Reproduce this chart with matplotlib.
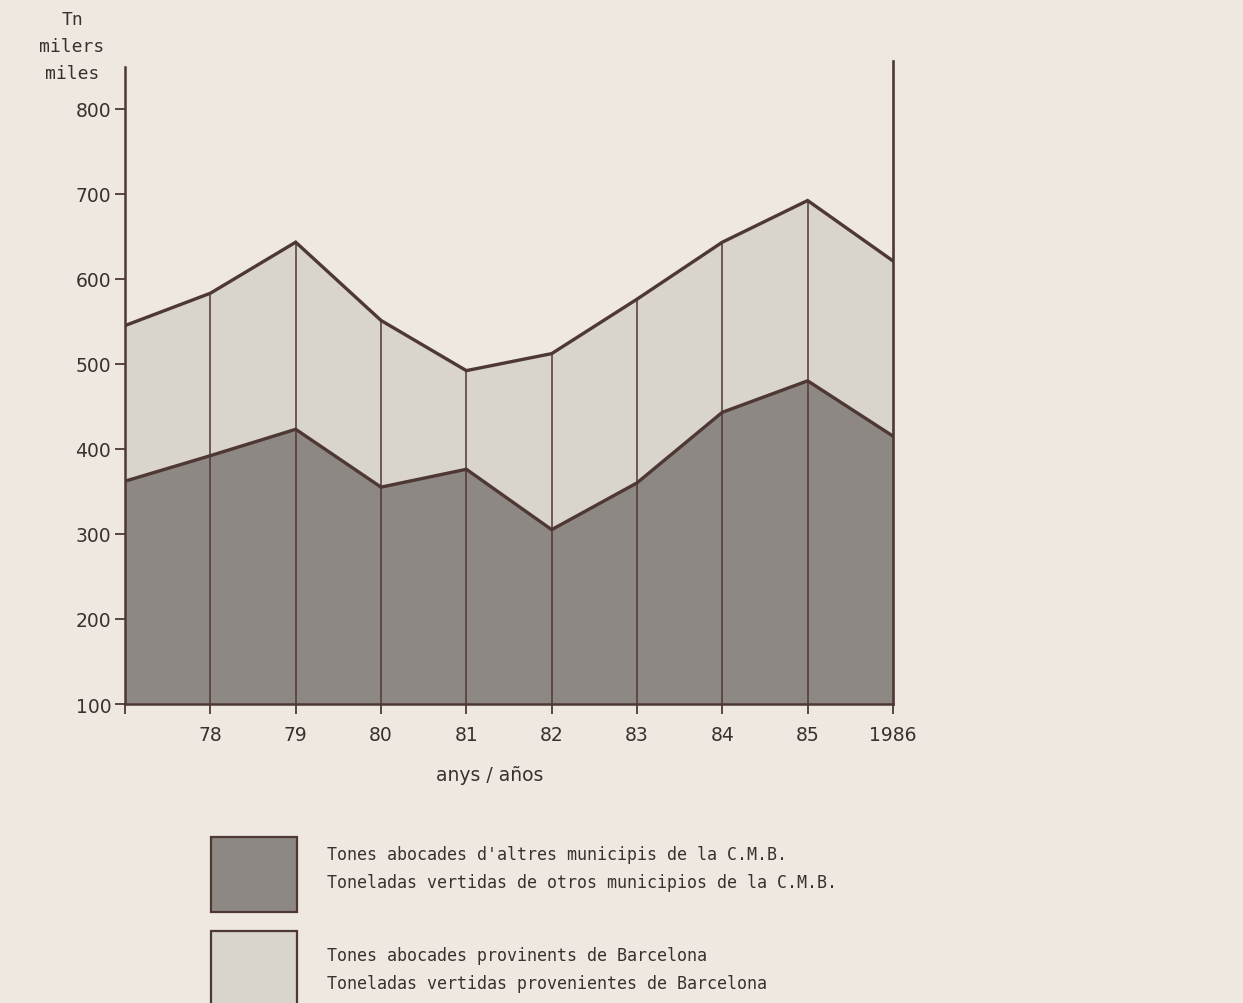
import matplotlib.pyplot as plt
from matplotlib.patches import Rectangle

# anys 1977-1986
anys = [1977, 1978, 1979, 1980, 1981, 1982, 1983, 1984, 1985, 1986]
etiquetes_x = ['', '78', '79', '80', '81', '82', '83', '84', '85', '1986']

# milers de tones
altres_municipis = [362, 392, 423, 355, 376, 305, 360, 443, 480, 415]
barcelona = [183, 191, 220, 196, 116, 207, 216, 200, 212, 206]

total = [a + b for a, b in zip(altres_municipis, barcelona)]

fons = '#eee8e0'
fosc = '#8e8884'
clar = '#d9d4cc'
linia = '#4e3834'
text_color = '#3a3030'

plt.rcParams['font.family'] = ['DejaVu Sans']

fig = plt.figure(figsize=(12.43, 10.04), dpi=100, facecolor=fons)
ax = fig.add_axes([0.1006, 0.2978, 0.6178, 0.6404])
ax.set_facecolor(fons)

ymin = 100
ax.fill_between(anys, ymin, altres_municipis, color=fosc, lw=0)
ax.fill_between(anys, altres_municipis, total, color=clar, lw=0)

# linies verticals a cada any
ax.vlines(anys[1:-1], ymin, total[1:-1], color=linia, lw=1.1)
ax.axvline(anys[-1], color=linia, lw=1.9, clip_on=False)

ax.plot(anys, altres_municipis, color=linia, lw=2.4, solid_joinstyle='miter')
ax.plot(anys, total, color=linia, lw=2.4, solid_joinstyle='miter')

ax.set_xlim(1977, 1986)
ax.set_ylim(ymin, 856)

for s in ['top', 'right']:
    ax.spines[s].set_visible(False)
ax.spines['left'].set_bounds(ymin, 849)
for s in ['left', 'bottom']:
    ax.spines[s].set_color(linia)
    ax.spines[s].set_linewidth(1.8)

ax.set_xticks(anys)
ax.set_xticklabels(etiquetes_x)
ax.set_yticks(range(100, 900, 100))
ax.tick_params(axis='both', direction='out', length=7, width=1.3,
               color=linia, labelcolor=text_color, labelsize=13.5)
ax.tick_params(axis='y', pad=3)
ax.tick_params(axis='x', pad=8)

ax.set_xlabel('anys / años', fontsize=13.5, color=text_color, labelpad=20)
ax.xaxis.set_label_coords((490 - 125) / 768, -0.095)

mono = 'DejaVu Sans Mono'
fig.text(72 / 1243, 1 - 47 / 1004, 'Tn\nmilers\nmiles', ha='center', va='center',
         family=mono, fontsize=13, color=text_color, linespacing=1.62)

# llegenda
def caixa(x, y, w, h, color):
    fig.add_artist(Rectangle((x / 1243, 1 - (y + h) / 1004), w / 1243, h / 1004,
                             transform=fig.transFigure, facecolor=color,
                             edgecolor=linia, lw=1.6))

caixa(211, 838, 86, 75, fosc)
caixa(211, 932, 86, 90, clar)

fig.text(327 / 1243, 1 - 869 / 1004,
         "Tones abocades d'altres municipis de la C.M.B.\n"
         "Toneladas vertidas de otros municipios de la C.M.B.",
         ha='left', va='center', family=mono, fontsize=12,
         color=text_color, linespacing=1.7)
fig.text(327 / 1243, 1 - 970 / 1004,
         "Tones abocades provinents de Barcelona\n"
         "Toneladas vertidas provenientes de Barcelona",
         ha='left', va='center', family=mono, fontsize=12,
         color=text_color, linespacing=1.7)

fig.savefig('out.png', dpi=100, facecolor=fons)
